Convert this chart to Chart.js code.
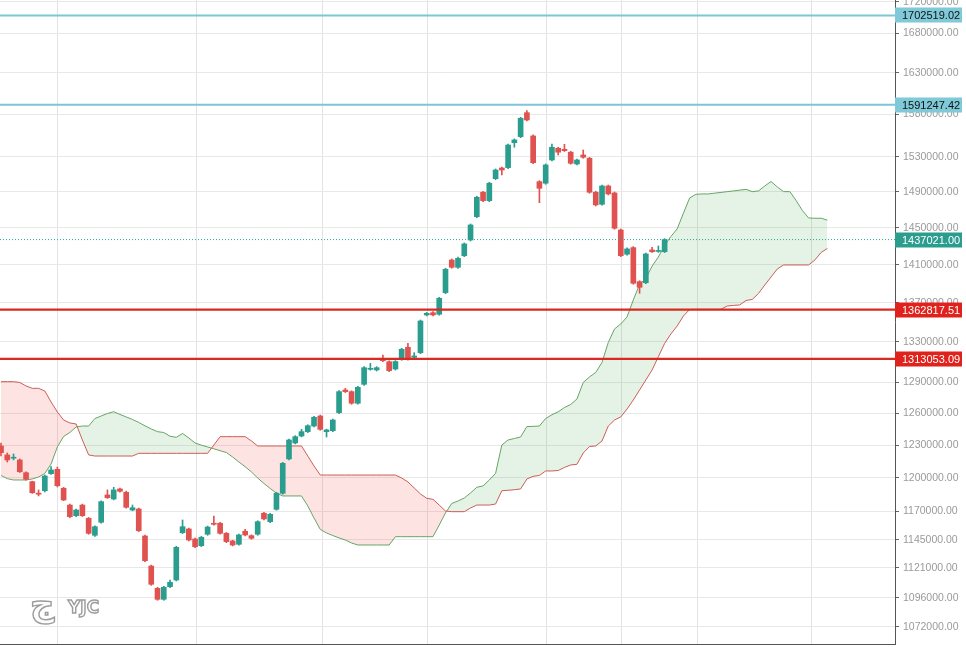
<!DOCTYPE html>
<html><head><meta charset="utf-8">
<script src="https://cdn.jsdelivr.net/npm/chart.js@4/dist/chart.umd.min.js"></script>
<style>html,body{margin:0;padding:0;background:#fff}#wrap{width:966px;height:647px;position:relative}</style>
</head><body><div id="wrap"><canvas id="c"></canvas></div>
<script>
// ---- data ----
const opens = [1229300,1221000,1218000,1216400,1204700,1196600,1185800,1188400,1203800,1207800,
1190600,1175600,1166200,1175600,1163900,1149000,1160400,1184600,1181000,1190000,
1187000,1171200,1172100,1148400,1122600,1103800,1094700,1105200,1110800,1151300,
1154500,1145800,1140000,1149900,1159500,1159500,1150700,1144100,1141200,1152500,
1148700,1149900,1168300,1160900,1171800,1186100,1217300,1232100,1238600,1242700,
1248000,1257500,1242700,1243600,1260700,1282500,1280900,1269700,1288000,1302700,
1302100,1312600,1310200,1303000,1312600,1324600,1314600,1319200,1357400,1359700,
1358100,1380500,1415000,1407200,1419600,1436600,1462100,1489400,1480000,1504800,
1517000,1517400,1546300,1553400,1581800,1554200,1501400,1499600,1526200,1539800,
1538600,1535200,1521600,1532000,1528200,1489400,1475900,1496500,1488600,1447500,
1421200,1428300,1392000,1390900,1425800,1424200,1423900];
const highs = [1232100,1222800,1221900,1217300,1205600,1197000,1189100,1202600,1210200,1209900,
1191400,1176500,1172000,1176400,1164600,1157300,1179400,1189100,1191500,1190800,
1188000,1175600,1172900,1149200,1123400,1104700,1105500,1110800,1139500,1162400,
1155300,1146600,1148000,1157000,1165900,1160300,1151500,1144800,1150000,1154200,
1149400,1161700,1169100,1168200,1187000,1214200,1235800,1238900,1244900,1249200,
1257200,1258400,1245000,1254600,1281800,1284100,1281700,1286100,1305300,1308600,
1305300,1316900,1311200,1311300,1323600,1328600,1319200,1352200,1360000,1360800,
1375600,1406200,1416100,1418000,1433400,1454100,1484900,1490500,1500700,1515900,
1518100,1544800,1550700,1576300,1584200,1555400,1502500,1521600,1544800,1540900,
1544400,1536300,1527300,1537800,1529300,1490500,1497600,1497600,1489700,1448600,
1428000,1429400,1393000,1422500,1428700,1430100,1438000];
const lows = [1220000,1214500,1216400,1204900,1198000,1186000,1183700,1187300,1203200,1191800,
1179500,1164500,1165400,1165400,1149900,1148000,1159500,1181500,1180200,1187000,
1172800,1170500,1152200,1126300,1106300,1093900,1093900,1104400,1110000,1150500,
1144100,1138300,1139200,1149000,1157800,1149900,1142600,1139800,1140400,1148500,
1145600,1149000,1162400,1160000,1171000,1185200,1216400,1231200,1237800,1241800,
1247100,1244000,1237700,1242700,1259700,1280000,1268700,1268700,1287000,1301800,
1301000,1310300,1300400,1302000,1311600,1311700,1313700,1318200,1356400,1356500,
1357100,1379400,1406200,1406100,1418600,1435500,1461000,1478800,1478800,1503600,
1509000,1516200,1541000,1552200,1572000,1522000,1477700,1498400,1525100,1532000,
1536000,1521300,1520500,1528200,1488300,1474000,1474800,1486400,1448300,1418600,
1420100,1389300,1379800,1390000,1423000,1423200,1423000];
const closes = [1223100,1216400,1218800,1205600,1198700,1186600,1185300,1201700,1207200,1192900,
1180100,1165300,1171200,1166200,1150700,1156500,1178600,1182100,1189100,1187900,
1173600,1173200,1153000,1127100,1107200,1094700,1104700,1108900,1138600,1156500,
1144900,1139100,1147300,1156200,1158600,1150700,1143500,1140600,1149300,1149300,
1146400,1160900,1163300,1167400,1186100,1213300,1234900,1238000,1242700,1248300,
1256300,1244900,1244300,1253700,1280900,1280900,1269700,1285100,1304300,1303700,
1304300,1311200,1301400,1310400,1322600,1312600,1315900,1351200,1359100,1357400,
1374600,1405100,1407200,1416800,1432300,1453000,1483800,1480000,1499600,1514700,
1514700,1543600,1549500,1575100,1573100,1523100,1493900,1520500,1541000,1535200,
1537000,1522400,1526200,1529300,1489400,1475200,1496500,1487500,1449400,1419600,
1426900,1390300,1386100,1421500,1423900,1425200,1437021];
// Ichimoku leading spans (displaced 26 periods ahead)
const spanA = [1202200,1199300,1198100,1198100,1198100,1199000,1200800,1204100,1212700,1228400,
1238200,1241900,1247100,1248000,1248000,1255100,1257500,1259900,1261600,1259000,
1256600,1254200,1251400,1248200,1245200,1242700,1241900,1238400,1237400,1241000,
1236800,1232100,1230100,1228400,1226700,1224900,1223200,1219100,1214500,1210200,
1205400,1199900,1194900,1190400,1186200,1183700,1183700,1183700,1183700,1174800,
1164100,1154100,1151000,1148800,1146700,1144900,1142300,1140600,1140600,1140600,
1140600,1140600,1140600,1147800,1147800,1147800,1147800,1147800,1147800,1147800,
1158000,1168600,1177000,1179200,1181900,1186400,1191500,1192700,1198100,1204100,
1230200,1234900,1236300,1237700,1247500,1247700,1248000,1255100,1258700,1261500,
1265600,1268500,1273800,1289800,1295200,1299600,1309500,1329400,1343100,1348200,
1355300,1372900,1389100,1395400,1408400,1418200,1430600,1440400,1448600,1465900,
1483000,1487100,1487500,1487500,1488400,1489200,1490100,1490900,1491800,1492700,
1490100,1490900,1496500,1501600,1495400,1490100,1490100,1480200,1469000,1460700,
1460400,1460400,1458300];
const spanB = [1290600,1290600,1290600,1289800,1286400,1284100,1284100,1281500,1270900,1261300,
1253700,1250900,1249900,1234900,1221000,1220000,1220000,1220000,1220000,1220000,
1220000,1220000,1222500,1222500,1222500,1222500,1222500,1222500,1222500,1222500,
1222500,1222500,1222500,1222500,1230200,1238000,1238000,1238000,1238000,1238000,
1234000,1229300,1229300,1229300,1229300,1229300,1229300,1229300,1229300,1220000,
1210800,1202600,1202600,1202600,1202600,1202600,1202600,1202600,1202600,1202600,
1202600,1202600,1202600,1202600,1199900,1196300,1190900,1185500,1181600,1180700,
1175600,1170300,1169700,1169700,1169700,1173000,1175600,1175600,1175600,1176500,
1188400,1188800,1189300,1190000,1199000,1201400,1202200,1206300,1206300,1206700,
1209500,1211800,1212400,1222800,1228800,1229300,1234000,1248000,1253700,1256600,
1264200,1272800,1282500,1292200,1302000,1315200,1328400,1338000,1346100,1356300,
1363000,1363200,1363200,1363200,1363200,1363200,1366600,1367200,1367700,1372300,
1373400,1379700,1388500,1396900,1405400,1409700,1409700,1409700,1409700,1409700,
1415000,1423100,1427400];
const yTicks = [1072000,1096000,1121000,1145000,1170000,1200000,1230000,1260000,1290000,1330000,
1370000,1410000,1450000,1490000,1530000,1580000,1630000,1680000,1720000];
const gridX = [9.03, 31.15, 51.28, 68.13, 87.14, 99.12, 111.26, 129.39];
const levels = [1702519.02, 1591247.42, 1437021.00, 1362817.51, 1313053.09];
const levelKinds = ['resistance','resistance','last','support','support'];

// ---- styles ----
const UP = '#2a9d8f', DOWN = '#e0524f';
const kindStyle = {
  resistance: {line:'#7cc6d5', width:2, dash:[], box:'#7fc9d8', text:'#111'},
  last: {line:'#26a69a', width:1, dash:[1,2], box:'#2a9d8f', text:'#fff'},
  support: {line:'#d92a22', width:2.2, dash:[], box:'#e0221c', text:'#fff'}
};
const candleColors = opens.map((o, i) => closes[i] >= o ? UP : DOWN);

const levelDatasets = levels.map((v, k) => {
  const s = kindStyle[levelKinds[k]];
  return {type:'line', label:'level '+v, data:[{x:-0.16,y:v},{x:142.8,y:v}],
    borderColor:s.line, borderWidth:s.width, borderDash:s.dash, pointRadius:0, fill:false, order:0};
});

const levelLabels = {
  id:'levelLabels',
  afterDraw(chart){
    const {ctx} = chart; const ys = chart.scales.y; const left = ys.left;
    ctx.save();
    levels.forEach((v,k)=>{
      const s = kindStyle[levelKinds[k]];
      const y = ys.getPixelForValue(v);
      ctx.fillStyle = s.box; ctx.fillRect(left, Math.round(y)-7.5, 67, 15);
      ctx.fillStyle = s.text; ctx.font = '11px "Liberation Sans", Arial, sans-serif';
      ctx.textBaseline = 'middle'; ctx.textAlign = 'left';
      ctx.fillText(v.toFixed(2), left + 7, Math.round(y) + 0.5);
    });
    ctx.restore();
  }
};
const watermark = {
  id:'watermark',
  beforeDatasetsDraw(chart){
    const {ctx} = chart;
    ctx.save();
    ctx.lineWidth = 1.4; ctx.strokeStyle = '#9c9c9c'; ctx.fillStyle = '#fdfdfd';
    ctx.font = 'bold 34px "DejaVu Sans"'; ctx.textBaseline = 'alphabetic';
    ctx.fillText('ج', 30, 616); ctx.strokeText('ج', 30, 616);
    ctx.font = 'bold 17px "DejaVu Sans"';
    ctx.fillText('YJC', 68, 613); ctx.strokeText('YJC', 68, 613);
    ctx.restore();
  }
};
const noPad = (s) => { s.paddingTop = 0; s.paddingBottom = 0; s.paddingLeft = 0; s.paddingRight = 0; };

new Chart(document.getElementById('c'), {
  type:'bar',
  data:{datasets:[
    {type:'line', label:'Senkou Span A', data: spanA.map((v,i)=>({x:i,y:v})), borderColor:'#66a466', borderWidth:1,
      pointRadius:0, tension:0, fill:{target:1, above:'rgba(76,175,80,0.15)', below:'rgba(244,67,54,0.15)'}, order:10},
    {type:'line', label:'Senkou Span B', data: spanB.map((v,i)=>({x:i,y:v})), borderColor:'#cc5e58', borderWidth:1,
      pointRadius:0, tension:0, fill:false, order:9},
    {label:'wicks', data: opens.map((o,i)=>({x:i, y:[lows[i], highs[i]]})), backgroundColor:candleColors,
      barThickness:1, grouped:false, order:3},
    {label:'bodies', data: opens.map((o,i)=>({x:i, y:[o, closes[i]]})), backgroundColor:candleColors,
      barThickness:5, minBarLength:1, grouped:false, order:2},
    ...levelDatasets
  ]},
  options:{
    responsive:true, maintainAspectRatio:false, animation:false, events:[],
    layout:{padding:0},
    plugins:{legend:{display:false}, tooltip:{enabled:false}},
    scales:{
      x:{type:'linear', min:-0.16, max:142.8, offset:false,
        ticks:{display:false}, grid:{color:'#e3e3e3', drawTicks:false, offset:false},
        border:{color:'#555', width:1},
        afterBuildTicks:(s)=>{ s.ticks = gridX.map(v=>({value:v})); },
        afterFit:(s)=>{ s.height = 3; noPad(s); }},
      y:{type:'logarithmic', position:'right', min:1058300, max:1722532,
        ticks:{autoSkip:false, color:'#9a9a9a', padding:4, font:{size:10.5, family:'"Liberation Sans", Arial, sans-serif'},
          callback:(v)=>Number(v).toFixed(2)},
        grid:{color:'#e8e8e8', tickColor:'#666', tickLength:4},
        border:{color:'#555', width:1},
        afterBuildTicks:(s)=>{ s.ticks = yTicks.map(v=>({value:v})); },
        afterFit:(s)=>{ s.width = 71; noPad(s); }}
    }
  },
  plugins:[watermark, levelLabels]
});
</script></body></html>
